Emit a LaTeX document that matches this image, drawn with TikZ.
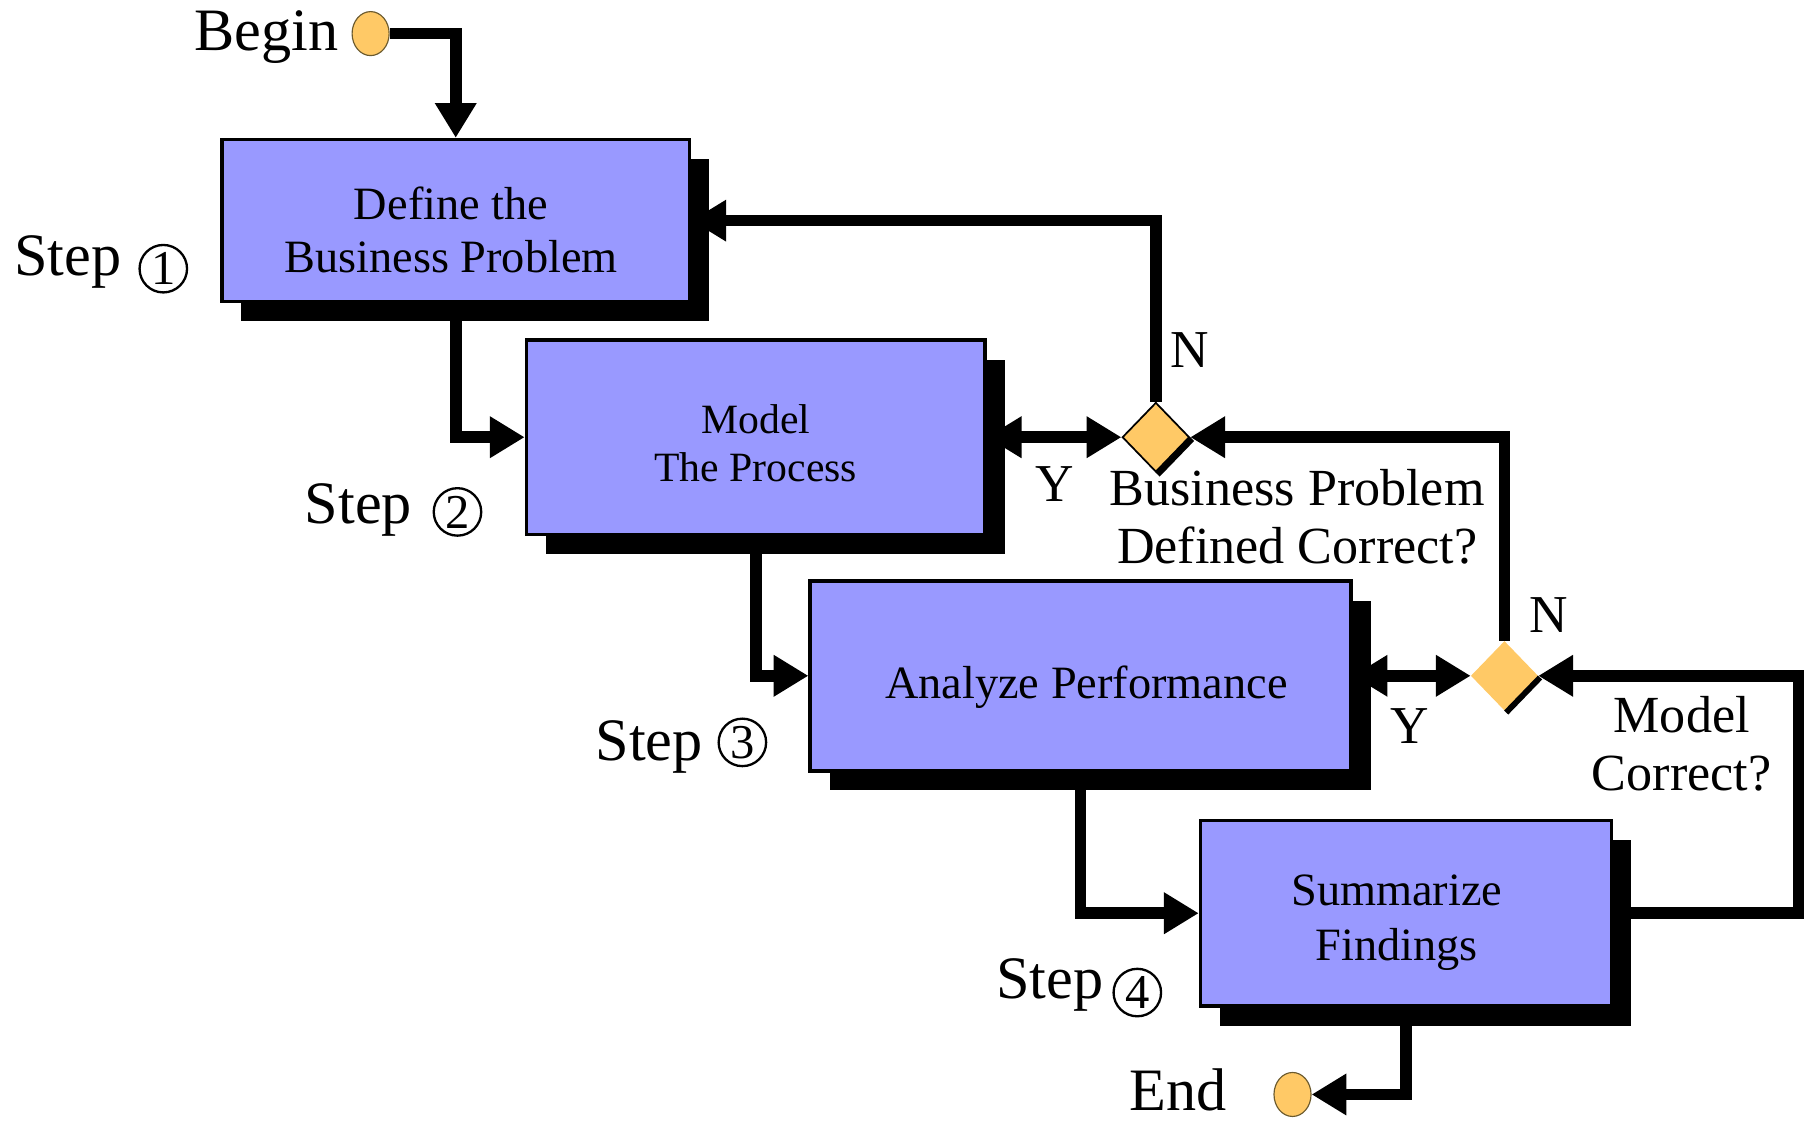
\documentclass[tikz,border=0pt]{standalone}
\usepackage{fontspec}
\setmainfont{Liberation Serif}
\usetikzlibrary{arrows.meta,shapes.geometric,shadows,backgrounds}
\definecolor{boxblue}{HTML}{9999FF}
\definecolor{decgold}{HTML}{FFC966}
\definecolor{rimbrown}{HTML}{6B5A2E}

\begin{document}
\begin{tikzpicture}[x=1pt,y=-1pt,
  stepbox/.style={draw=black, line width=3pt, fill=boxblue, inner sep=0pt,
    drop shadow={shadow xshift=17pt, shadow yshift=-17pt, fill=black, opacity=1}},
  boxtext/.style={align=center, inner sep=0pt, font=\fontsize{40}{45}\selectfont},
  decision/.style={diamond, fill=decgold, inner sep=0pt,
    minimum width=58pt, minimum height=60pt},
  terminal/.style={ellipse, draw=rimbrown, line width=1pt, fill=decgold,
    minimum width=32pt, minimum height=38pt, inner sep=0pt},
  flow/.style={line width=10pt, -{Triangle[length=30pt,width=34pt]}},
  twoway/.style={line width=10pt,
    {Triangle[length=30pt,width=34pt]}-{Triangle[length=30pt,width=34pt]}},
  lbl/.style={font=\fontsize{45}{50}\selectfont, align=center, inner sep=0pt},
  yn/.style={font=\fontsize{46}{46}\selectfont, inner sep=0pt},
  steptxt/.style={font=\fontsize{52}{52}\selectfont, anchor=base west, inner sep=0pt},
  stepnum/.style={circle, draw, line width=2pt, minimum size=41pt, inner sep=0pt},
  numfont/.style={font=\fontsize{42}{42}\selectfont},
  edgeshade/.style={line width=5pt}
]
\useasboundingbox (0,0) rectangle (1568,969);

% process boxes
\node[stepbox, minimum width=404pt, minimum height=140pt] (box1) at (393.5,190.5) {};
\node[stepbox, minimum width=396pt, minimum height=168pt] (box2) at (652.5,377.5) {};
\node[stepbox, minimum width=467pt, minimum height=164pt] (box3) at (933,583.5) {};
\node[stepbox, minimum width=355pt, minimum height=160pt] (box4) at (1214,788.5) {};

% box captions
\node[boxtext] (t1) at ([shift={(-4,8)}]box1.center) {Define the\\Business Problem};
\node[boxtext, font=\fontsize{36}{41}\selectfont] (t2) at ([shift={(0,5)}]box2.center)
  {Model\\The Process};
\node[boxtext] (t3) at ([shift={(5,10)}]box3.center) {Analyze Performance};
\node[boxtext, font=\fontsize{40}{47}\selectfont] (t4) at ([shift={(-8,8)}]box4.center)
  {Summarize\\Findings};

% decisions
\node[decision, draw=black, line width=1.5pt] (d1) at (998,377.5) {};
\draw[edgeshade] ([shift={(1.5,1.5)}]d1.east) -- ([shift={(1.5,1.5)}]d1.south);
\node[decision] (d2) at (1299,583.5) {};
\draw[edgeshade] ([shift={(1.5,1.5)}]d2.east) -- ([shift={(1.5,1.5)}]d2.south);

% start and end points
\node[terminal] (begin) at (320,29) {};
\node[terminal] (end) at (1116,945) {};
\coordinate (rc) at (1553,788.5);

% connectors
\begin{pgfonlayer}{background}
  \draw[flow] (begin.east) -| (box1.north);
  \draw[flow] (box1.south) |- (box2.west);
  \draw[flow] (box2.south) |- (box3.west);
  \draw[flow] (box3.south) |- (box4.west);
  \draw[flow] (box4.south) |- (end.east);
  \draw[twoway] (box2.east) -- (d1.west);
  \draw[twoway] (box3.east) -- (d2.west);
  \draw[flow] (d1.north) |- (box1.east);
  \draw[flow] (d2.north) |- (d1.east);
  \draw[flow] (box4.east) -- (rc) |- (d2.east);
\end{pgfonlayer}

% labels
\node[steptxt] (tbegin) at (168,44) {Begin};
\node[steptxt] (tend) at (975,959) {End};

% step markers: word plus circled number
\node[steptxt] (s1) at (12,238) {Step};
\node[stepnum] (c1) at (141,232) {};
\node[numfont] (c1n) at (c1.center) {1};
\node[steptxt] (s2) at (263,452) {Step};
\node[stepnum] (c2) at (395,442) {};
\node[numfont] (c2n) at (c2.center) {2};
\node[steptxt] (s3) at (514,657) {Step};
\node[stepnum] (c3) at (641,641) {};
\node[numfont] (c3n) at (c3.center) {3};
\node[steptxt] (s4) at (860,862) {Step};
\node[stepnum] (c4) at (982,857) {};
\node[numfont] (c4n) at (c4.center) {4};

\node[yn] (n1) at (1027,302) {N};
\node[yn] (y1) at (911,418) {Y};
\node[yn] (n2) at (1337,531) {N};
\node[yn] (y2) at (1217,627) {Y};

\node[lbl] (q1) at (1120,446) {Business Problem\\Defined Correct?};
\node[lbl] (q2) at (1452,642) {Model\\Correct?};
\end{tikzpicture}
\end{document}
